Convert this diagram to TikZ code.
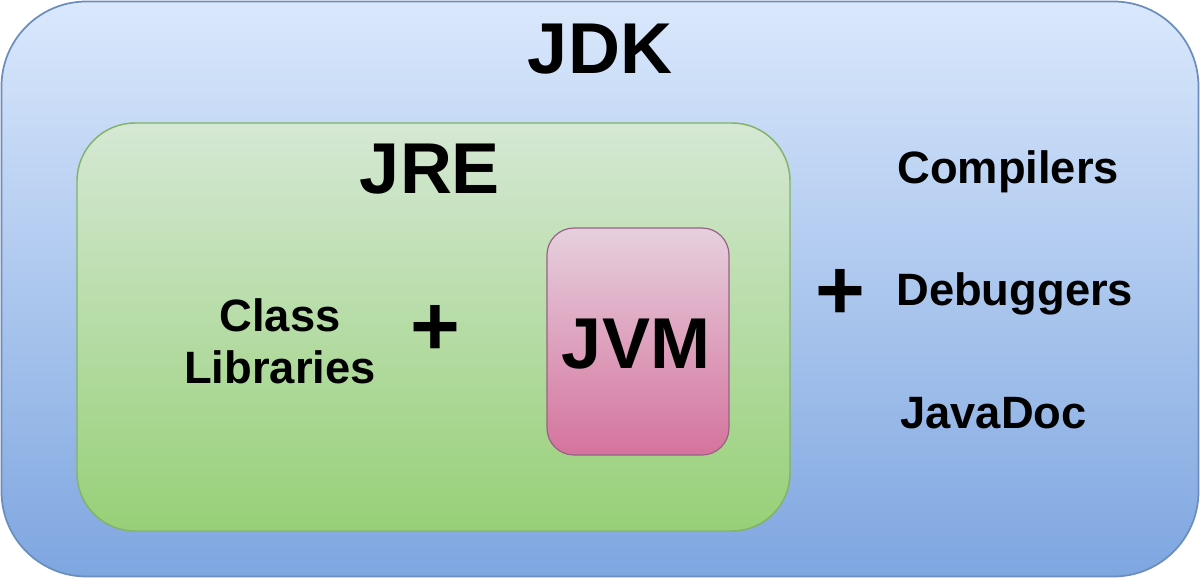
\documentclass[tikz,border=0pt]{standalone}
\usepackage{fontspec}
\setmainfont{Liberation Sans}
\definecolor{jdktop}{HTML}{DAE8FC}
\definecolor{jdkbot}{HTML}{7EA6E0}
\definecolor{jdkline}{HTML}{6C8EBF}
\definecolor{jretop}{HTML}{D5E8D4}
\definecolor{jrebot}{HTML}{97D077}
\definecolor{jreline}{HTML}{82B366}
\definecolor{jvmtop}{HTML}{E6D0DE}
\definecolor{jvmbot}{HTML}{D5739D}
\definecolor{jvmline}{HTML}{996185}

\begin{document}
\begin{tikzpicture}[
    x=0.75pt, y=-0.75pt,
    jdkbox/.style={draw=jdkline, line width=1.3pt, top color=jdktop, bottom color=jdkbot, rounded corners=63.75pt},
    jrebox/.style={draw=jreline, line width=1.1pt, top color=jretop, bottom color=jrebot, rounded corners=43.5pt},
    jvmbox/.style={draw=jvmline, line width=0.9pt, top color=jvmtop, bottom color=jvmbot, rounded corners=20.25pt},
    big/.style={font=\fontsize{54}{60}\selectfont\bfseries, inner sep=0pt},
    tag/.style={font=\fontsize{34}{39}\selectfont\bfseries, inner sep=0pt},
    plus/.style={font=\fontsize{64}{70}\selectfont\bfseries, inner sep=0pt},
  ]
  \useasboundingbox (0,0) rectangle (1200,578);

  %% ================= the three nested boxes =================
  \draw[jdkbox] (1.5,1.5) rectangle (1198.5,576.5);
  \draw[jrebox] (77,123) rectangle (790,531);
  \draw[jvmbox] (547,228) rectangle (729,455);

  %% ================= titles =================
  \node[big, anchor=base] (jdk) at (600,73)  {JDK};
  \node[big, anchor=base] (jre) at (430,193) {JRE};
  \node[big, anchor=base] (jvm) at (636,368) {JVM};

  %% ================= inside the JRE =================
  \node[tag, align=center, anchor=base] (classlib) at (280,383) {Class\\Libraries};
  \node[plus] (plusjre) at (435,330) {+};

  %% ================= tools of the JDK =================
  \node[plus] (plusjdk) at (840,294) {+};
  \node[tag, anchor=base west] (compilers) at (897,183) {Compilers};
  \node[tag, anchor=base west] (debuggers) at (896,305) {Debuggers};
  \node[tag, anchor=base west] (javadoc)   at (900,428) {JavaDoc};

\end{tikzpicture}
\end{document}
